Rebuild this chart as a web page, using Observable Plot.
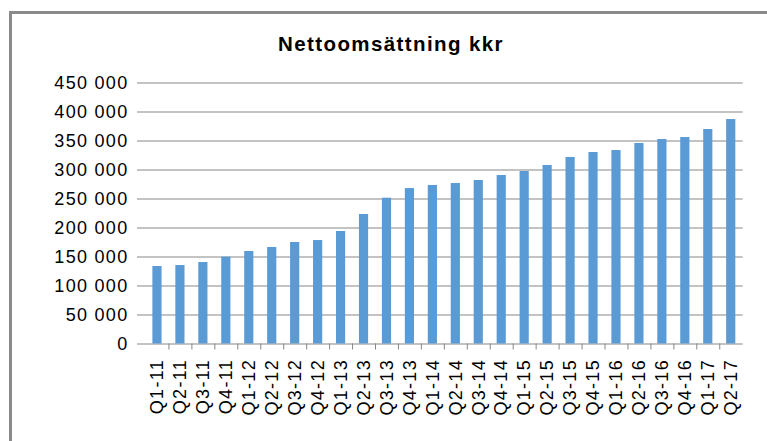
<!DOCTYPE html>
<html>
<head>
<meta charset="utf-8">
<script src="https://cdn.jsdelivr.net/npm/d3@7"></script>
<script src="https://cdn.jsdelivr.net/npm/@observablehq/plot@0.6"></script>
<style>
  html, body { margin: 0; padding: 0; background: #fff; overflow: hidden; width: 767px; height: 441px; }
  #frame { position: absolute; left: 8.5px; top: 10.5px; width: 900px; height: 600px;
           border-left: 3px solid #8a8a8a; border-top: 3px solid #8a8a8a; box-sizing: border-box; }
  #wrap { position: absolute; left: 0; top: 0; width: 767px; }
  #title { position: relative; height: 62px; width: 767px; }
  #title span { position: absolute; left: 15px; right: 0; top: 34px; text-align: center;
                font: bold 20.5px "Liberation Sans", Arial, sans-serif; line-height: 20px;
                letter-spacing: 1.4px; color: #000; }
  #chart svg { display: block; }
</style>
</head>
<body>
<div id="frame"></div>
<div id="wrap">
  <div id="title"><span>Nettoomsättning kkr</span></div>
  <div id="chart"></div>
</div>
<script>
const quarters = ["Q1-11","Q2-11","Q3-11","Q4-11","Q1-12","Q2-12","Q3-12","Q4-12",
  "Q1-13","Q2-13","Q3-13","Q4-13","Q1-14","Q2-14","Q3-14","Q4-14",
  "Q1-15","Q2-15","Q3-15","Q4-15","Q1-16","Q2-16","Q3-16","Q4-16","Q1-17","Q2-17"];
const revenue = [133600, 135300, 140500, 149700, 159500, 166400, 175000, 178400,
  194000, 223300, 251400, 268000, 273300, 276700, 281900, 290500,
  297400, 307800, 321600, 330200, 333600, 345700, 352600, 356000, 369800, 387000];
const yTicks = [0, 50000, 100000, 150000, 200000, 250000, 300000, 350000, 400000, 450000];

const data = quarters.map((q, i) => ({quarter: q, value: revenue[i]}));
const fmt = d => d3.format(",")(d).replace(/,/g, " ");

const mLeft = 145.5, mRight = 24.8;
const step = (767 - mLeft - mRight) / quarters.length;

const chart = Plot.plot({
  width: 767,
  height: 379,
  marginLeft: mLeft,
  marginRight: mRight,
  marginTop: 20.5,
  marginBottom: 97.5,
  style: {fontFamily: '"Liberation Sans", Arial, sans-serif', fontSize: "18px", letterSpacing: "1.3px", color: "#000", background: "transparent"},
  x: {domain: quarters, paddingInner: 0.6, paddingOuter: 0.3, round: false, label: null},
  y: {domain: [0, 450000], label: null},
  marks: [
    Plot.ruleY(yTicks, {stroke: "#878787", strokeWidth: 1, insetLeft: -8.5, insetRight: -0.5}),
    Plot.barY(data, {x: "quarter", y: "value", fill: "#5B9BD5"}),
    Plot.axisY({ticks: yTicks, tickFormat: fmt, tickSize: 0, tickPadding: 17.5, fill: "#000", label: null}),
    Plot.axisX({ticks: quarters, tickRotate: -90, tickSize: 0, tickPadding: 15, fill: "#000", label: null}),
    Plot.axisX({ticks: quarters.slice(0, -1), tickSize: 6, dx: step / 2, stroke: "#878787", tickFormat: () => "", label: null})
  ]
});
document.getElementById("chart").appendChild(chart);
</script>
</body>
</html>
